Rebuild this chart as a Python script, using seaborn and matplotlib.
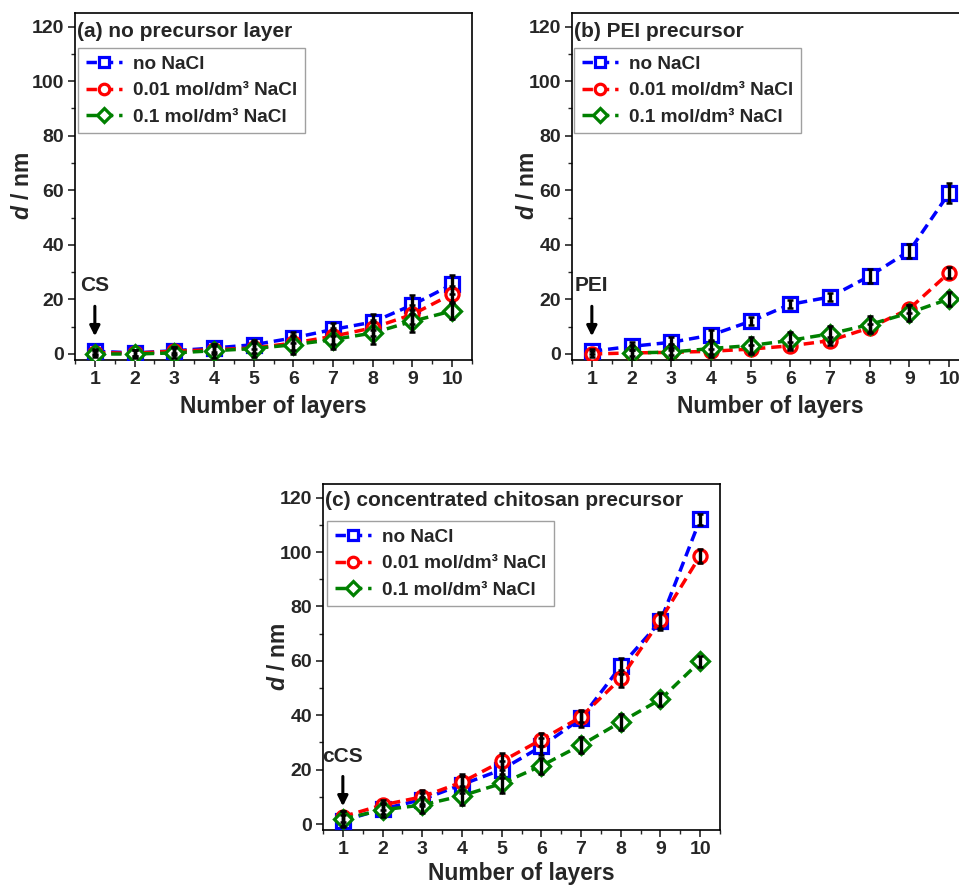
import numpy as np
import pandas as pd
import matplotlib
matplotlib.use("Agg")
import matplotlib.pyplot as plt
import seaborn as sns
from matplotlib.ticker import MultipleLocator

# ---------------- data ----------------
layers = [1, 2, 3, 4, 5, 6, 7, 8, 9, 10]
series_names = ["no NaCl", "0.01 mol/dm³ NaCl", "0.1 mol/dm³ NaCl"]

# (a) no precursor layer
a_none = [1.0, 0.4, 1.2, 2.2, 3.4, 5.9, 9.0, 11.7, 18.0, 25.5]
a_001 = [0.5, 0.3, 1.0, 1.6, 2.2, 4.0, 6.5, 9.6, 14.5, 22.0]
a_01 = [0.0, 0.0, 0.4, 1.2, 2.0, 3.4, 5.3, 7.7, 12.0, 15.8]
a_none_err = [1.0, 1.0, 1.0, 1.5, 1.5, 2.0, 2.5, 3.0, 3.5, 3.5]
a_001_err = [1.0, 1.0, 1.5, 1.5, 2.0, 2.5, 3.0, 3.0, 3.5, 3.0]
a_01_err = [1.0, 1.5, 2.0, 2.5, 3.0, 3.5, 3.5, 4.0, 4.0, 3.0]

# (b) PEI precursor
b_none = [1.0, 2.8, 4.3, 6.9, 12.0, 18.2, 20.9, 28.6, 37.8, 59.0]
b_001 = [0.0, 0.4, 0.6, 1.0, 1.8, 3.0, 4.9, 9.6, 16.6, 29.8]
b_01 = [np.nan, 0.4, 0.7, 2.0, 3.1, 5.0, 7.4, 10.8, 15.1, 20.2]
b_none_err = [1.0, 1.5, 2.0, 2.0, 1.5, 1.5, 1.5, 2.5, 2.5, 3.5]
b_001_err = [1.0, 1.0, 1.0, 1.0, 1.5, 1.5, 1.5, 1.5, 1.5, 2.0]
b_01_err = [np.nan, 3.0, 3.0, 3.0, 3.0, 3.0, 3.0, 3.0, 3.0, 2.5]

# (c) concentrated chitosan precursor
c_none = [1.2, 5.5, 9.0, 14.5, 20.0, 28.5, 38.8, 58.0, 74.5, 112.0]
c_001 = [2.7, 7.0, 10.0, 15.4, 23.0, 31.0, 39.4, 53.5, 75.0, 98.6]
c_01 = [1.8, 5.2, 7.0, 10.4, 14.9, 21.4, 29.0, 37.5, 45.8, 59.8]
c_none_err = [2.0, 2.0, 2.5, 3.0, 3.0, 3.0, 3.0, 3.0, 3.0, 2.0]
c_001_err = [2.0, 2.0, 2.5, 3.0, 3.0, 2.5, 2.0, 3.0, 3.0, 2.5]
c_01_err = [3.0, 2.5, 3.0, 3.5, 3.5, 3.0, 3.0, 3.0, 2.5, 2.0]

panel_titles = ["(a) no precursor layer", "(b) PEI precursor",
                "(c) concentrated chitosan precursor"]
arrow_labels = ["CS", "PEI", "cCS"]
y_ticks = [0, 20, 40, 60, 80, 100, 120]

colors = ["#0000FF", "#FF0000", "#008000"]
markers = ["s", "o", "D"]

# ---------------- style ----------------
sns.set_theme(style="ticks")
plt.rcParams["font.family"] = ["Liberation Sans", "DejaVu Sans"]
plt.rcParams["font.weight"] = "bold"
plt.rcParams["axes.labelweight"] = "bold"
plt.rcParams["mathtext.fontset"] = "custom"
plt.rcParams["mathtext.it"] = "Liberation Sans:italic:bold"
plt.rcParams["mathtext.rm"] = "Liberation Sans:bold"

fig = plt.figure(figsize=(9.59, 8.85), dpi=100)
W, H = 959.0, 885.0
ax_a = fig.add_axes([75 / W, 1 - 360 / H, 397 / W, 347 / H])
ax_b = fig.add_axes([572 / W, 1 - 360 / H, 397 / W, 347 / H])
ax_c = fig.add_axes([323 / W, 1 - 830 / H, 397 / W, 346 / H])

panels = [
    (ax_a, [a_none, a_001, a_01], [a_none_err, a_001_err, a_01_err],
     (0.005, 0.948), (0.008, 0.899), 5, -0.104),
    (ax_b, [b_none, b_001, b_01], [b_none_err, b_001_err, b_01_err],
     (0.005, 0.948), (0.005, 0.899), 5, -0.084),
    (ax_c, [c_none, c_001, c_01], [c_none_err, c_001_err, c_01_err],
     (0.005, 0.951), (0.01, 0.893), 3, -0.084),
]

for i, (ax, vals, errs, tpos, lpos, xlpad, ylx) in enumerate(panels):
    rows = []
    for name, v in zip(series_names, vals):
        for x, y in zip(layers, v):
            rows.append({"layer": x, "d": y, "series": name})
    df = pd.DataFrame(rows)
    sns.lineplot(data=df, x="layer", y="d", hue="series", style="series",
                 hue_order=series_names, style_order=series_names,
                 palette=colors, markers=markers,
                 dashes=[(3.0, 1.7)] * 3, linewidth=2.5, markersize=9.5,
                 legend=False, ax=ax, sort=False, zorder=3)
    handles = list(ax.lines[:3])
    for ln, c in zip(handles, colors):
        ln.set_markerfacecolor("white")
        ln.set_markeredgecolor(c)
        ln.set_markeredgewidth(2.3)
    # error bars (black, on top)
    for v, e in zip(vals, errs):
        ax.errorbar(layers, v, yerr=e, fmt="none", ecolor="black",
                    elinewidth=2.4, capsize=2.0, capthick=1.8, zorder=4)

    ax.set_xlim(0.5, 10.5)
    ax.set_ylim(-2.2, 125)
    ax.set_xticks(layers)
    ax.set_yticks(y_ticks)
    ax.xaxis.set_minor_locator(MultipleLocator(0.5))
    ax.yaxis.set_minor_locator(MultipleLocator(10))
    ax.tick_params(axis="both", which="major", direction="out", length=5,
                   width=1.2, labelsize=14, top=False, right=False, pad=3)
    ax.tick_params(axis="both", which="minor", direction="out", length=3,
                   width=1.0, top=False, right=False)
    for lab in ax.get_xticklabels() + ax.get_yticklabels():
        lab.set_fontweight("bold")
    for s in ax.spines.values():
        s.set_visible(True)
        s.set_linewidth(1.2)
        s.set_color("black")
    ax.set_xlabel("Number of layers", fontsize=16.5, fontweight="bold",
                  labelpad=xlpad)
    ax.set_ylabel("$d$ / nm", fontsize=16.5, fontweight="bold")
    ax.yaxis.set_label_coords(ylx, 0.5)

    ax.text(tpos[0], tpos[1], panel_titles[i], transform=ax.transAxes,
            ha="left", va="center", fontsize=15, fontweight="bold")

    leg = ax.legend(handles=handles, labels=series_names, loc="upper left",
                    bbox_to_anchor=lpos, borderaxespad=0, fancybox=False,
                    framealpha=1, edgecolor="#A0A0A0",
                    prop={"weight": "bold", "size": 13.7},
                    handlelength=1.9, markerscale=0.8, labelspacing=0.48,
                    borderpad=0.4, handletextpad=0.6)
    leg.get_frame().set_linewidth(1.0)

    # arrow annotation at first layer
    ax.annotate("", xy=(1, 5.5), xytext=(1, 18.5),
                arrowprops=dict(arrowstyle="-|>", color="black", lw=2.2,
                                mutation_scale=15), zorder=6)
    ax.text(1, 21.5, arrow_labels[i], ha="center", va="bottom",
            fontsize=15, fontweight="bold")

fig.savefig("out.png", dpi=100)
